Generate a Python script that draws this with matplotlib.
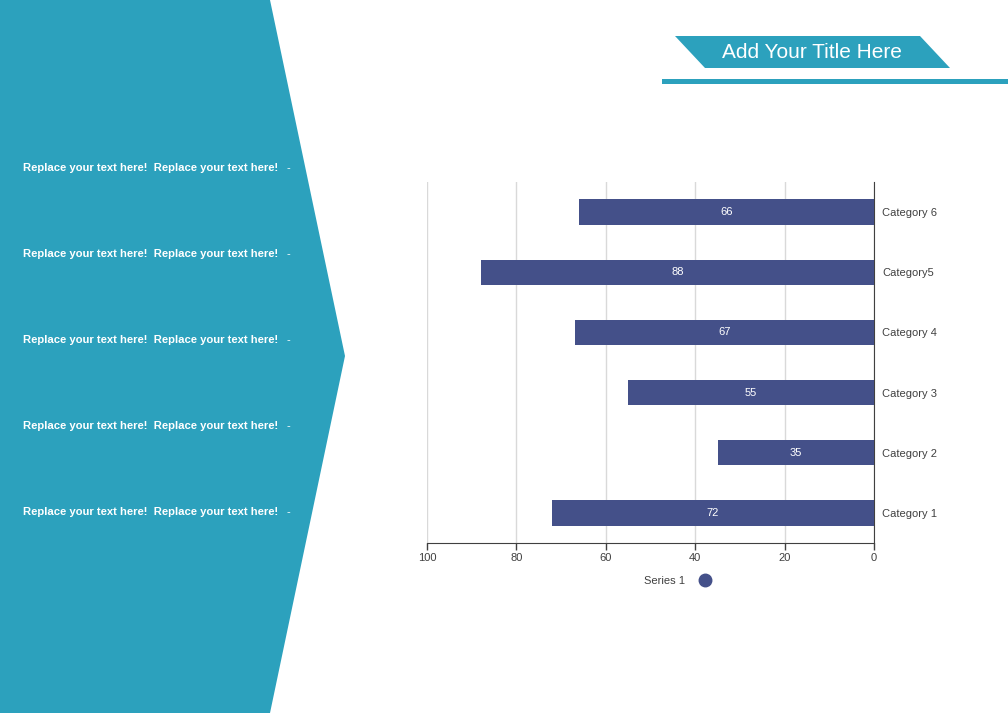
import matplotlib
matplotlib.use("Agg")
import matplotlib.pyplot as plt
from matplotlib.patches import Polygon, Rectangle
from matplotlib.lines import Line2D

plt.rcParams['font.family'] = ['Liberation Sans', 'DejaVu Sans']

categories = ["Category 1", "Category 2", "Category 3", "Category 4", "Category5", "Category 6"]
values = [72, 35, 55, 67, 88, 66]
series_name = "Series 1"
x_ticks = [0, 20, 40, 60, 80, 100]
title = "Add Your Title Here"
bullet_text = "Replace your text here!  Replace your text here!"
n_bullets = 5

TEAL = "#2ca1bd"
BAR = "#445089"

W, H = 1008, 713
fig = plt.figure(figsize=(W / 100, H / 100), dpi=100)

# background layer in pixel coordinates
bg = fig.add_axes([0, 0, 1, 1], zorder=0)
bg.set_xlim(0, W)
bg.set_ylim(H, 0)
bg.axis("off")

bg.add_patch(Polygon([(0, 0), (270, 0), (345, 356), (270, H), (0, H)],
                     closed=True, facecolor=TEAL, edgecolor="none"))
bg.add_patch(Polygon([(675, 36), (920, 36), (950, 68), (705, 68)],
                     closed=True, facecolor=TEAL, edgecolor="none"))
bg.add_patch(Rectangle((662, 79), W - 662, 5, facecolor=TEAL, edgecolor="none"))
bg.text(812, 52, title, color="white", fontsize=15, ha="center", va="center")

ys = [168, 254, 340, 426, 512]
for y in ys[:n_bullets]:
    bg.text(278, y, bullet_text, color="white", fontsize=8.1, fontweight="bold",
            ha="right", va="center")
    bg.text(288, y, "-", color="white", fontsize=8, ha="center", va="center")

# chart
ax = fig.add_axes([427 / W, 1 - 543 / H, 447 / W, 361 / H], zorder=1)
ax.patch.set_alpha(0)
pos = list(range(len(categories)))
bars = ax.barh(pos, values, height=0.42, color=BAR, zorder=3, label=series_name)
ax.set_xlim(100, 0)
ax.set_ylim(-0.5, len(categories) - 0.5)
ax.set_yticks(pos)
ax.set_yticklabels(categories)
ax.yaxis.tick_right()
ax.tick_params(axis="y", length=0, pad=6, labelsize=8, labelcolor="#404040")
ax.set_xticks(x_ticks)
ax.tick_params(axis="x", length=5, width=1, color="#404040", labelsize=8,
               labelcolor="#404040", pad=2)
ax.grid(axis="x", color="#d9d9d9", linewidth=1, zorder=0)
for s in ["top", "left"]:
    ax.spines[s].set_visible(False)
ax.spines["right"].set_color("#404040")
ax.spines["bottom"].set_color("#404040")

for b, v in zip(bars, values):
    ax.text(b.get_x() + b.get_width() / 2, b.get_y() + b.get_height() / 2, str(v),
            color="white", fontsize=8, ha="center", va="center", zorder=4)

handle = Line2D([], [], marker="o", linestyle="none", markersize=9,
                markerfacecolor=BAR, markeredgecolor=BAR)
ax.legend([handle], [series_name], loc="center", bbox_to_anchor=(680 / W, 1 - 581 / H),
          bbox_transform=fig.transFigure, frameon=False, markerfirst=False,
          fontsize=8, labelcolor="#404040", handletextpad=0.8)

fig.savefig("out.png", dpi=100)
